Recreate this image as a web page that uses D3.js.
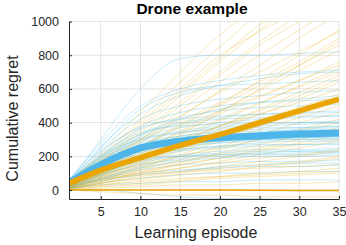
<!DOCTYPE html>
<html>
<head>
<meta charset="utf-8">
<script src="https://cdn.jsdelivr.net/npm/d3@7"></script>
<style>
body { margin: 0; background: #fff; }
text { font-family: "Liberation Sans", Arial, sans-serif; fill: #262626; }
</style>
</head>
<body>
<div class="canvas"></div>
<script>
const episodes = [1, 5, 10, 15, 20, 25, 30, 35]
const xTicks = [5, 10, 15, 20, 25, 30, 35]
const yTicks = [0, 200, 400, 600, 800, 1000]

// thick mean curves
const orangeMean = [40, 118, 192, 265, 330, 400, 470, 540]
const blueMean = [45, 150, 250, 290, 310, 322, 332, 338]
const orangeFlat = [2, 1, 0, 0, 0, -1, -2, -3]

// thin individual runs (orange)
const orangeRuns = [
    [40, 150, 320, 500, 680, 860, 1000, 1150],
    [30, 130, 280, 430, 590, 740, 900, 1050],
    [50, 170, 360, 560, 760, 950, 1120, 1300],
    [20, 110, 230, 350, 470, 590, 710, 830],
    [40, 120, 250, 380, 500, 620, 740, 860],
    [30, 100, 200, 300, 410, 510, 620, 720],
    [20, 90, 180, 270, 360, 450, 540, 640],
    [60, 140, 260, 370, 470, 560, 650, 740],
    [10, 70, 150, 230, 300, 380, 460, 540],
    [30, 80, 160, 240, 310, 380, 450, 520],
    [20, 60, 120, 180, 240, 300, 360, 420],
    [40, 90, 150, 200, 250, 300, 350, 400],
    [10, 50, 100, 150, 190, 240, 280, 330],
    [30, 70, 110, 150, 190, 230, 270, 300],
    [20, 40, 80, 110, 140, 170, 200, 230],
    [10, 30, 60, 90, 110, 140, 160, 190],
    [0, 20, 40, 60, 80, 100, 110, 130],
    [10, 30, 50, 70, 80, 90, 100, 110],
    [0, 10, 20, 30, 30, 40, 40, 50],
    [0, -10, -20, -30, -30, -40, -40, -40],
    [50, 200, 420, 640, 850, 1050, 1200, 1350],
    [20, 140, 300, 470, 640, 800, 950, 1100],
    [40, 160, 300, 440, 580, 700, 820, 940],
    [30, 120, 240, 340, 450, 550, 650, 760],
    [10, 60, 130, 200, 260, 330, 400, 460],
    [20, 80, 170, 260, 340, 420, 490, 570],
    [40, 130, 220, 300, 380, 450, 520, 600],
    [10, 40, 90, 130, 170, 210, 250, 290],
    [20, 100, 190, 280, 380, 470, 560, 660],
    [30, 110, 210, 320, 420, 520, 610, 700],
    [60, 180, 380, 580, 780, 980, 1100, 1200],
    [20, 90, 200, 330, 460, 600, 740, 880],
    [30, 60, 100, 130, 160, 190, 210, 240],
    [10, 20, 30, 50, 70, 80, 90, 100],
    [50, 190, 400, 600, 800, 940, 1060, 1180],
    [30, 150, 290, 410, 520, 640, 760, 900],
    [40, 100, 190, 290, 380, 480, 580, 680],
    [20, 130, 260, 390, 510, 650, 800, 950],
    [10, 70, 140, 210, 290, 360, 430, 500],
    [30, 90, 170, 250, 330, 400, 470, 530],
    [20, 50, 110, 160, 220, 270, 320, 370],
    [40, 80, 130, 170, 210, 250, 300, 350],
    [10, 40, 70, 100, 130, 150, 170, 200],
    [20, 60, 90, 110, 120, 130, 140, 150],
    [50, 220, 460, 700, 920, 1100, 1250, 1400],
    [30, 170, 340, 520, 700, 880, 1040, 1200]
]

// thin individual runs (blue)
const blueRuns = [
    [40, 300, 600, 780, 800, 800, 810, 820],
    [60, 260, 450, 560, 620, 660, 690, 700],
    [30, 220, 380, 460, 500, 520, 530, 540],
    [50, 200, 330, 400, 430, 450, 460, 470],
    [20, 180, 290, 340, 370, 380, 390, 400],
    [40, 160, 260, 310, 330, 340, 350, 350],
    [30, 140, 230, 270, 290, 300, 300, 310],
    [20, 120, 200, 240, 260, 270, 270, 280],
    [10, 100, 170, 210, 230, 240, 240, 250],
    [30, 90, 150, 180, 200, 210, 210, 220],
    [10, 70, 120, 150, 160, 170, 170, 180],
    [20, 60, 100, 120, 130, 140, 140, 150],
    [0, 40, 70, 90, 100, 100, 110, 110],
    [10, 30, 40, 50, 50, 60, 60, 60],
    [0, 0, -20, -40, -50, -50, -60, -60],
    [50, 240, 420, 500, 540, 560, 580, 590],
    [40, 200, 360, 430, 470, 490, 500, 510],
    [60, 190, 310, 370, 400, 420, 430, 440],
    [30, 170, 300, 350, 380, 390, 400, 410],
    [20, 150, 270, 320, 350, 360, 370, 380],
    [40, 130, 250, 300, 320, 330, 340, 340],
    [30, 110, 210, 260, 280, 290, 300, 300],
    [10, 130, 260, 300, 310, 320, 320, 330],
    [20, 90, 180, 230, 250, 260, 270, 270],
    [40, 250, 480, 580, 620, 630, 640, 650],
    [10, 80, 160, 200, 220, 230, 230, 240],
    [30, 160, 320, 390, 420, 430, 440, 440],
    [20, 110, 230, 280, 300, 310, 310, 320],
    [0, 50, 90, 110, 140, 150, 160, 160],
    [30, 170, 260, 280, 300, 340, 360, 370],
    [50, 210, 340, 380, 390, 400, 400, 400],
    [20, 120, 180, 200, 210, 215, 220, 225],
    [60, 230, 370, 420, 440, 450, 455, 460],
    [40, 190, 330, 420, 480, 520, 540, 560],
    [20, 140, 250, 290, 310, 320, 330, 335],
    [30, 100, 190, 250, 280, 300, 310, 320],
    [50, 180, 280, 320, 340, 350, 355, 360],
    [10, 90, 190, 240, 260, 280, 290, 290],
    [30, 150, 240, 280, 300, 300, 310, 310],
    [20, 70, 140, 190, 210, 220, 230, 230],
    [40, 120, 220, 270, 290, 310, 320, 330],
    [60, 280, 500, 600, 650, 680, 700, 710],
    [10, 60, 130, 170, 190, 200, 200, 210],
    [30, 200, 300, 340, 360, 370, 370, 380]
]

const width = 346
const height = 245
const plot = {left: 69, right: 339, top: 21.5, bottom: 199}

const svg = d3.select('.canvas')
    .append('svg')
    .attr('width', width)
    .attr('height', height)

const x = d3.scaleLinear()
    .domain([1, 35])
    .range([plot.left, plot.right])

const y = d3.scaleLinear()
    .domain([-53, 1000])
    .range([plot.bottom, plot.top])

// grid
const grid = svg.append('g')
grid.selectAll('line.gx')
    .data(xTicks)
    .enter().append('line')
    .attr('x1', d => x(d)).attr('x2', d => x(d))
    .attr('y1', plot.top).attr('y2', plot.bottom)
    .attr('stroke', '#e3e3e3')
    .attr('stroke-width', 1)
grid.selectAll('line.gy')
    .data(yTicks)
    .enter().append('line')
    .attr('y1', d => y(d)).attr('y2', d => y(d))
    .attr('x1', plot.left).attr('x2', plot.right)
    .attr('stroke', '#e3e3e3')
    .attr('stroke-width', 1)

svg.append('clipPath')
    .attr('id', 'clip')
    .append('rect')
    .attr('x', plot.left)
    .attr('y', plot.top)
    .attr('width', plot.right - plot.left)
    .attr('height', plot.bottom - plot.top)

const line = d3.line()
    .x((d, i) => x(episodes[i]))
    .y(d => y(d))
    .curve(d3.curveMonotoneX)

const lines = svg.append('g').attr('clip-path', 'url(#clip)')

// interleave runs so neither colour sits fully on top
const runs = []
const n = Math.max(orangeRuns.length, blueRuns.length)
for (let i = 0; i < n; i++) {
    if (orangeRuns[i]) runs.push({c: '#edb120', v: orangeRuns[i]})
    if (blueRuns[i]) runs.push({c: '#4dbeee', v: blueRuns[i]})
}

lines.selectAll('path.run')
    .data(runs)
    .enter().append('path')
    .attr('class', 'run')
    .attr('d', d => line(d.v))
    .attr('fill', 'none')
    .attr('stroke', d => d.c)
    .attr('stroke-opacity', 0.45)
    .attr('stroke-width', 0.7)

lines.append('path')
    .attr('d', line(orangeFlat))
    .attr('fill', 'none')
    .attr('stroke', '#eba500')
    .attr('stroke-width', 1.5)

lines.append('path')
    .attr('d', line(blueMean))
    .attr('fill', 'none')
    .attr('stroke', '#4db5ea')
    .attr('stroke-width', 7)

lines.append('path')
    .attr('d', line(orangeMean))
    .attr('fill', 'none')
    .attr('stroke', '#eba500')
    .attr('stroke-width', 5.5)

// axes
const xAxis = d3.axisBottom(x).tickValues(xTicks).tickSizeInner(-3).tickSizeOuter(0).tickPadding(8)
const yAxis = d3.axisLeft(y).tickValues(yTicks).tickFormat(d3.format('d'))
    .tickSizeInner(-3).tickSizeOuter(0).tickPadding(10)

const xAxisGroup = svg.append('g')
    .attr('transform', `translate(0, ${plot.bottom})`)
    .call(xAxis)
const yAxisGroup = svg.append('g')
    .attr('transform', `translate(${plot.left}, 0)`)
    .call(yAxis)

;[xAxisGroup, yAxisGroup].forEach(g => {
    g.select('.domain').attr('stroke', '#262626')
    g.selectAll('.tick line').attr('stroke', '#262626')
    g.selectAll('.tick text')
        .attr('font-size', 12.5)
        .attr('font-family', '"Liberation Sans", Arial, sans-serif')
        .attr('fill', '#262626')
})

// title and labels
svg.append('text')
    .attr('x', 192)
    .attr('y', 14)
    .attr('text-anchor', 'middle')
    .attr('font-size', 15.5)
    .attr('font-weight', 'bold')
    .style('fill', '#000')
    .text('Drone example')

svg.append('text')
    .attr('x', 196)
    .attr('y', 238)
    .attr('text-anchor', 'middle')
    .attr('font-size', 16)
    .text('Learning episode')

svg.append('text')
    .attr('transform', 'translate(17.5, 118.5) rotate(-90)')
    .attr('text-anchor', 'middle')
    .attr('font-size', 16)
    .text('Cumulative regret')
</script>
</body>
</html>
